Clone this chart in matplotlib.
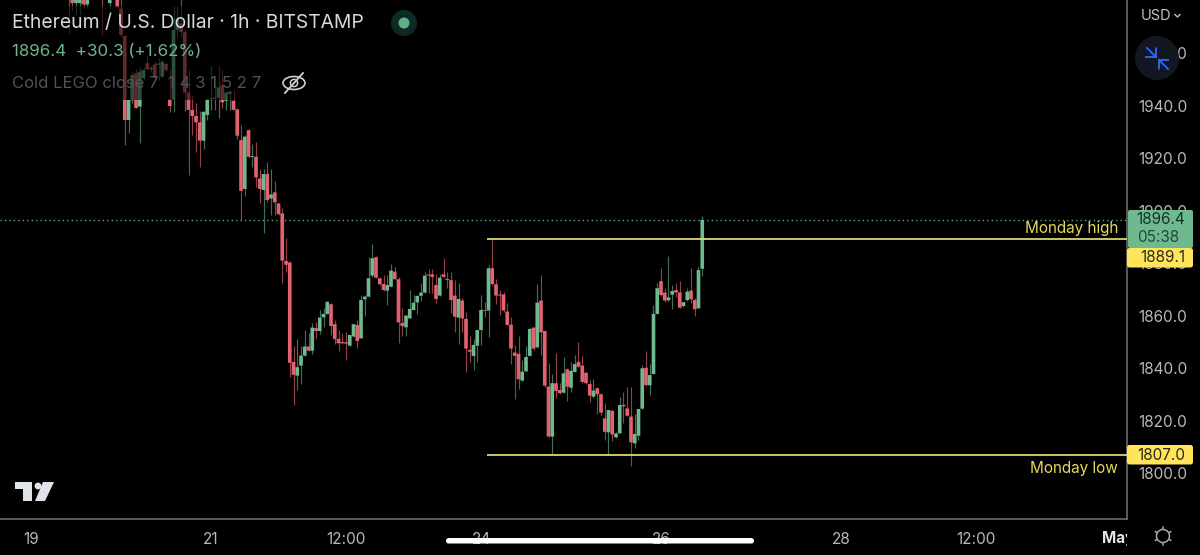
import matplotlib
matplotlib.use('Agg')
import matplotlib.pyplot as plt
from matplotlib.patches import Rectangle, FancyBboxPatch, Circle, Polygon, Ellipse
from matplotlib.transforms import Bbox

plt.rcParams['font.family'] = ['Inter', 'DejaVu Sans']

# hourly candles, first one is 9 hours after the "19" tick
first_hour = 9
opens = [1990,1986,1988,1979,1979,1985,1978.5,1985,1989,1992,1990,1986,1979,1988,1987,1977,1966.5,1934.5,1942,1952.3,
         1939.6,1950.4,1956.1,1953.8,1955.7,1955.5,1951,1955.8,1942.3,1942.2,1968.8,1971.3,1968,1944.9,1938.3,1936,1933.6,1926.6,1936.4,1942.3,
         1943,1943,1947.8,1941.8,1944.4,1941.8,1938.5,1926.8,1908.2,1930.6,1920.4,1920.5,1912.2,1907.8,1913.9,1904.6,1906.9,1902.7,1898.9,1880.8,
         1880.2,1842.3,1837.1,1840.9,1844.7,1848.2,1846.6,1855.2,1854.1,1859.3,1860.6,1864.3,1856.7,1851.1,1849.9,1849.8,1848.5,1852,1856.4,1851.3,
         1866.2,1867.2,1875.2,1882.2,1874.2,1872,1869.5,1871,1876.7,1873.8,1857.2,1855.5,1858.9,1862.1,1865,1867.5,1868.7,1875.6,1875.7,1871.6,
         1867.6,1875.7,1873.9,1873.5,1867.6,1859.2,1865.7,1858.7,1846.9,1844.6,1848.5,1854.5,1862.1,1861.9,1878,1871.9,1868,1868,1861.5,1856.5,
         1845.9,1845.4,1835.2,1838.7,1844.6,1855.4,1847.9,1865.7,1854.1,1832.9,1813.9,1834.2,1831.6,1830.6,1839.5,1832.5,1838.5,1842.3,1840.9,1838.2,
         1833.9,1829.1,1832.3,1830,1820.8,1815.5,1823.7,1813.6,1815.1,1826,1824.6,1821.5,1811.3,1814.2,1824.5,1840.1,1833.4,1837.7,1860.6,1873.1,
         1868.7,1865.8,1867.9,1869.7,1868.8,1863.6,1865.9,1869.5,1865.9,1862.7,1877.8]
highs = [1996,1995,1992,1986,1986,1988,1986,1992,1995,1998,1996,1992,1992,1994,1996,1981,1967,1942.5,1953,1954,
         1954.7,1954.8,1959.2,1955.4,1956.7,1958,1957.3,1956.7,1953.5,1978,1978,2000,1969,1953.5,1944,1940.8,1938,1937.9,1943,1955,
         1947.8,1955,1953.5,1945.6,1946,1945.9,1939,1932.5,1928.7,1931,1925.3,1926.2,1915.8,1916,1918.6,1915.7,1911.2,1903,1900.8,1889.4,
         1880.6,1848.4,1851,1848.2,1854.3,1853.2,1857,1857.7,1862.1,1862.8,1865.6,1864.6,1858.3,1854.5,1853.5,1853.9,1852.6,1856.8,1858.3,1867.8,
         1867.8,1882.2,1887.3,1882.7,1874.4,1875.5,1875.5,1879.6,1878.4,1874.8,1862.8,1860.2,1869.7,1867.8,1867.5,1872.5,1876.7,1877.6,1877.6,1876,
         1875.7,1882,1876.7,1876.7,1873.5,1872.3,1866.6,1861.5,1852.2,1851,1854.5,1867.8,1865.3,1879.3,1889,1873.8,1869.7,1869,1864.9,1859.6,
         1848.8,1852.2,1843,1848.2,1855.4,1855.8,1872,1875.5,1854.1,1842,1837.7,1845.6,1834.2,1844.1,1839.9,1842.2,1845,1850,1844.6,1838.6,
         1835.5,1835.7,1832.9,1830.6,1826.5,1824,1824,1815.7,1829.1,1830.7,1832.9,1832.9,1822.5,1824.4,1841.1,1846.6,1841.5,1863.9,1872.5,1878,
         1870.4,1882.7,1871.6,1872.3,1873.1,1865.3,1870.6,1878,1866.5,1878.4,1897.9]
lows = [1984,1967.5,1976,1975,1974.5,1977,1977,1982,1984,1986,1967,1981,1977,1982,1977,1966,1925,1929.4,1941,1939,
        1925.8,1949.7,1953.5,1952.9,1949.7,1949.7,1950.7,1952.9,1937.7,1937.7,1966,1966,1938,1913.5,1928.7,1922.4,1916.4,1923.4,1934.4,1938.3,
        1938.3,1935.1,1938.9,1938.3,1938.3,1938.3,1927.2,1896.4,1905.5,1920,1916.4,1908.8,1902.7,1891.3,1903.3,1898.3,1898.3,1898.3,1872.5,1876.7,
        1836.7,1825.9,1831.7,1833.9,1844.7,1846.6,1845.4,1851.3,1852.9,1855.8,1860.6,1852.6,1849.2,1846.6,1849.4,1843.1,1848.5,1852,1847.5,1851.3,
        1859.8,1867.2,1874.8,1874.2,1871.6,1869.4,1864,1870.8,1873.8,1849.4,1852.2,1852.2,1858.9,1862.1,1860.6,1865.7,1868.6,1868.5,1868.5,1864.7,
        1867.6,1874.2,1870.4,1860.9,1853.9,1849.2,1853.9,1838.6,1842.4,1839.3,1842.4,1848.8,1859.3,1851.7,1871.6,1864.4,1860.2,1861.5,1856.4,1841.5,
        1828.1,1832,1835.2,1838.7,1844.6,1846.9,1847.7,1845,1832.9,1813.6,1807.3,1828.5,1830.1,1830.3,1827.4,1830.8,1838.4,1840.5,1834.2,1833.9,
        1827.2,1828.7,1822.5,1822.1,1812.6,1806.9,1812.3,1813.2,1815.1,1818.9,1821.7,1802.7,1809.4,1812.6,1824.4,1833.3,1829.7,1837.7,1860.6,1867.4,
        1865.3,1865.7,1862.6,1866.9,1862.7,1863.1,1865.7,1864.6,1859.8,1862.7,1875]
closes = [1986,1983,1979,1984,1985,1978.5,1985,1989,1992,1990,1986,1988,1988,1991,1977.4,1966.9,1934.5,1942.1,1951.6,1939,
          1952.9,1953.5,1953.8,1954.4,1950.4,1956,1956.7,1953.5,1939.8,1968.8,1973,1968,1944.9,1938.3,1936,1933.6,1926.6,1937.6,1942.1,1942.7,
          1942.5,1946.9,1941.2,1944.9,1945.2,1938.3,1928.5,1907.5,1928.1,1920.5,1920.7,1912.6,1908.2,1913.9,1904,1906.1,1903.1,1898.6,1880.9,1879.3,
          1842,1837.4,1840.3,1844.7,1848.2,1846.6,1855.4,1854.1,1859.2,1860.6,1865.2,1856,1851,1849.4,1849.4,1849.3,1852.6,1856.7,1850.3,1865.9,
          1867.2,1874.2,1881.8,1874.4,1871.9,1869.7,1871.6,1877.1,1873.8,1857.4,1856,1860,1862.5,1864.9,1867.5,1868.7,1875.2,1875.2,1874.7,1866.3,
          1874.4,1874.7,1873.5,1865.9,1859.5,1866.3,1858.9,1847.4,1846.2,1848.8,1854.5,1862.1,1861.8,1878,1872,1867.6,1867.6,1861.9,1856.4,1847.4,
          1844.6,1835.7,1838.6,1844.2,1854.9,1847.4,1864.9,1853.6,1833.3,1813.9,1834.2,1831.3,1830.4,1838,1832.9,1838.9,1841.5,1840.5,1834.7,1834.2,
          1829.5,1831.4,1830,1823,1815.7,1824,1814.7,1815.1,1825.9,1825.4,1821.8,1811.7,1814.9,1824.4,1839.9,1833.5,1837.3,1860.6,1870.4,1867.8,
          1865.7,1866.9,1869.3,1868.8,1863,1865.1,1869.1,1866.2,1862.4,1877.3,1896.4]

price_ticks = [1800, 1820, 1840, 1860, 1880, 1900, 1920, 1940, 1960]
time_ticks = [0, 48, 84, 120, 168, 216, 252, 290]
time_labels = ['19', '21', '12:00', '24', '26', '28', '12:00', 'May']
last_price = 1896.4
monday_high = 1889.1
monday_low = 1807.0
monday_start = 121.6

RED = '#e4626f'
GREEN = '#6fb98f'
RED_WICK = '#8f4049'
GREEN_WICK = '#3f6f58'
YELLOW = '#ffe45c'
LINE = '#6a6a6a'

fig = plt.figure(figsize=(12, 5.55), dpi=100, facecolor='black')
ax = fig.add_axes([0, 36 / 555, 1127 / 1200, 519 / 555], facecolor='black')
ax.set_xlim(-8.27, 292.27)
ax.set_ylim(1782.48, 1980.19)

# candles
hours = [first_hour + i for i in range(len(opens))]
body_col = [GREEN if c >= o else RED for o, c in zip(opens, closes)]
wick_col = [GREEN_WICK if c >= o else RED_WICK for o, c in zip(opens, closes)]
ax.vlines(hours, lows, highs, colors=wick_col, lw=0.85, zorder=2)
ax.bar(hours, [abs(c - o) for o, c in zip(opens, closes)], bottom=[min(o, c) for o, c in zip(opens, closes)],
       width=0.97, color=body_col, lw=0, zorder=3, snap=False)

# levels
ax.axhline(last_price, color='#5fa880', lw=1.0, ls=(0, (1, 2.2)), zorder=1)
ax.hlines([monday_high, monday_low], monday_start, 292.27, colors='#dcd66e', lw=1.3, zorder=4)

# axes
for s in ['top', 'left']:
    ax.spines[s].set_visible(False)
ax.spines['right'].set_color(LINE)
ax.spines['bottom'].set_color(LINE)
ax.spines['right'].set_linewidth(1.2)
ax.spines['bottom'].set_linewidth(1.2)
ax.yaxis.tick_right()
ax.set_yticks(price_ticks)
ax.set_yticklabels(['%.1f' % p for p in price_ticks])
ax.set_xticks(time_ticks)
ax.set_xticklabels(time_labels)
ax.tick_params(axis='y', length=0, pad=8, labelsize=11, colors='#b8b8b8')
ax.tick_params(axis='x', length=0, pad=9, labelsize=11, colors='#b8b8b8')
for t in ax.get_xticklabels():
    if t.get_text() == 'May':
        t.set_color('#e6e6e6')
        t.set_fontweight('bold')
        t.set_clip_on(True)
        t.set_clip_box(Bbox([[0, 0], [1127, 555]]))

# screen furniture in pixel coordinates
ui = fig.add_axes([0, 0, 1, 1], facecolor='none')
ui.set_xlim(0, 1200)
ui.set_ylim(555, 0)
ui.axis('off')

ui.add_patch(Rectangle((0, 6), 312, 94, color='black', alpha=0.58, lw=0, zorder=1))
ui.text(12, 23, 'Ethereum / U.S. Dollar · 1h · BITSTAMP', color='#d9d9d9', fontsize=13.9, va='center', zorder=3)
ui.text(12, 52, '1896.4  +30.3 (+1.62%)', color='#6fb58c', fontsize=12.2, va='center', zorder=3)
ui.text(12, 83, 'Cold LEGO close 7  1 4 3 1 5 2 7', color='#505258', fontsize=12, va='center', zorder=3)

# status dot
ui.add_patch(Circle((404, 23), 13, color='#0e2a25', lw=0, zorder=3))
ui.add_patch(Circle((404, 23), 5.5, color='#5fb08a', lw=0, zorder=4))

# crossed eye
ui.add_patch(Ellipse((294, 83), 22, 13, fill=False, ec='#d0d0d0', lw=1.2, zorder=3))
ui.add_patch(Circle((294, 83), 3.6, fill=False, ec='#d0d0d0', lw=1.1, zorder=3))
ui.plot([285, 303], [93, 73], color='#d0d0d0', lw=1.3, zorder=4)

# tradingview mark
ui.add_patch(Polygon([(15, 482), (32, 482), (32, 501), (23, 501), (23, 489), (15, 489)], color='#e0e3eb', lw=0, zorder=3))
ui.add_patch(Circle((38, 486), 3.4, color='#e0e3eb', lw=0, zorder=3))
ui.add_patch(Polygon([(43, 482), (54, 482), (45, 501), (35, 501)], color='#e0e3eb', lw=0, zorder=3))

# currency and zoom button
ui.text(1141, 16, 'USD', color='#c4c4c4', fontsize=10.5, va='center', zorder=3)
ui.plot([1175, 1177.5, 1180], [14.5, 17, 14.5], color='#c4c4c4', lw=1, zorder=3)
ui.add_patch(Circle((1157, 58), 22, color='#131722', lw=0, zorder=3))
blue = '#3461ea'
ui.plot([1147, 1156, 1156], [48, 57, 48.5], color=blue, lw=1.4, zorder=4)
ui.plot([1146, 1156], [57, 57], color=blue, lw=1.4, zorder=4)
ui.plot([1168, 1159, 1159], [69, 60, 68.5], color=blue, lw=1.4, zorder=4)
ui.plot([1159, 1168], [60, 60], color=blue, lw=1.4, zorder=4)

# price tags
ui.add_patch(FancyBboxPatch((1128, 210), 65, 38, boxstyle='round,pad=0,rounding_size=2', color=GREEN, lw=0, zorder=3))
ui.text(1185, 220, '%.1f' % last_price, color='#123326', fontsize=11, ha='right', va='center', zorder=4)
ui.text(1137, 237, '05:38', color='#1f4a38', fontsize=11, va='center', zorder=4)
for top, val in [(248, monday_high), (445, monday_low)]:
    ui.add_patch(FancyBboxPatch((1127, top), 66, 19.5, boxstyle='round,pad=0,rounding_size=2.5', color=YELLOW, lw=0, zorder=3))
    ui.text(1185, top + 10, '%.1f' % val, color='#2a2a1a', fontsize=11, ha='right', va='center', zorder=4)
ui.text(1118, 228, 'Monday high', color='#e6d95c', fontsize=11, ha='right', va='center', zorder=3)
ui.text(1118, 468, 'Monday low', color='#e6d95c', fontsize=11, ha='right', va='center', zorder=3)

# settings cog
ui.add_patch(Circle((1163, 536), 6.5, fill=False, ec='#a8a8a8', lw=1.1, zorder=3))
for dx, dy in [(0, -8), (0, 8), (-7, -4), (7, -4), (-7, 4), (7, 4)]:
    ui.plot([1163 + dx * 0.85, 1163 + dx * 1.1], [536 + dy * 0.85, 536 + dy * 1.1], color='#a8a8a8', lw=1.1, zorder=3)

# phone home bar
ui.add_patch(FancyBboxPatch((446, 538), 308, 5.5, boxstyle='round,pad=0,rounding_size=2.7', color='white', lw=0, zorder=5))

fig.savefig('out.png', dpi=100, facecolor='black')
